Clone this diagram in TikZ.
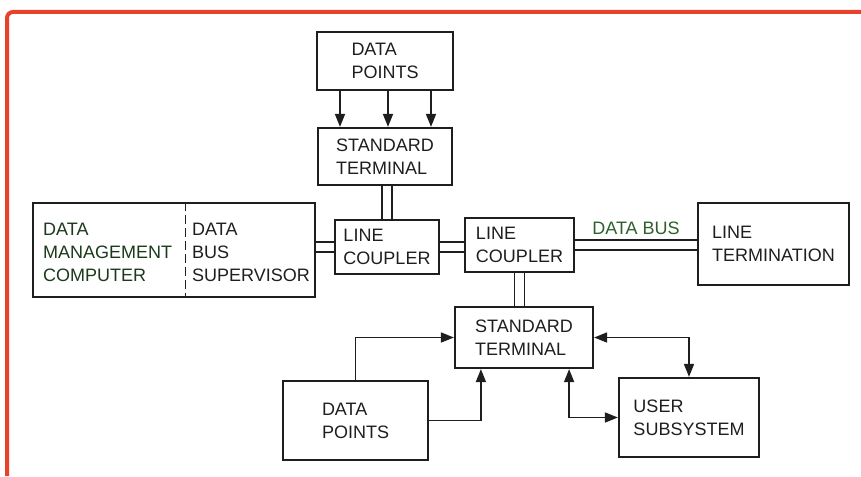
\documentclass[tikz,border=0pt]{standalone}
\usepackage{fontspec}
\setmainfont{Liberation Sans}
\usetikzlibrary{arrows.meta}
\definecolor{frame}{RGB}{232,66,44}
\definecolor{ink}{RGB}{30,30,30}
\definecolor{busgreen}{RGB}{45,95,45}

\begin{document}
\begin{tikzpicture}[x=1pt,y=-1pt,font=\fontsize{18}{23}\selectfont,
 >={Triangle[length=13pt,width=10pt]},
 box/.style={draw=ink,line width=2.2pt,align=left,inner sep=0pt,text=ink},
 bus/.style={draw=ink,double,line width=1.5pt,double distance=8.5pt},
 link/.style={draw=ink,line width=1.6pt,->},
 duplex/.style={draw=ink,line width=1.6pt,<->}]
\useasboundingbox (0,0) rectangle (861,476);
\draw[frame,line width=4pt,rounded corners=6pt] (7,476) -- (7,12) -- (861,12);

% boxes
\node[box,minimum width=136pt,minimum height=58pt] (dp1) at (385,61) {DATA\\POINTS};
\node[box,minimum width=134pt,minimum height=57pt] (st1) at (385,156.5) {STANDARD\\TERMINAL};
\node[box,minimum width=282pt,minimum height=94pt] (dbs) at (174,250) {};
\node[align=left,inner sep=0pt,text=busgreen!60!black,anchor=west] (dmc) at (43,252) {DATA\\MANAGEMENT\\COMPUTER};
\node[align=left,inner sep=0pt,text=ink,anchor=west] (sup) at (192,252) {DATA\\BUS\\SUPERVISOR};
\coordinate (split) at (185,250);
\draw[ink,line width=1pt,dash pattern=on 9pt off 4pt] (split |- dbs.north) -- (split |- dbs.south);
\node[box,minimum width=104pt,minimum height=54pt] (lc1) at (387,247) {LINE\\COUPLER};
\node[box,minimum width=109pt,minimum height=54pt] (lc2) at (519.5,245) {LINE\\COUPLER};
\node[box,minimum width=151pt,minimum height=82pt] (lt) at (773.5,244) {LINE\\TERMINATION};
\node[box,minimum width=138pt,minimum height=61pt] (st2) at (524,337.5) {STANDARD\\TERMINAL};
\node[box,minimum width=145pt,minimum height=79pt] (dp2) at (355.5,420.5) {DATA\\POINTS};
\node[box,minimum width=140pt,minimum height=79pt] (us) at (689,417.5) {USER\\SUBSYSTEM};

% data point inputs
\foreach \dx in {-45,3,46}
  \draw[link] ([xshift=\dx pt]dp1.south) -- ([xshift=\dx pt]dp1.south |- st1.north);

% bus couplings
\draw[bus] (lc1.north |- st1.south) -- (lc1.north);
\draw[bus] (dbs.east |- lc1.west) -- (lc1.west);
\draw[bus] (lc1.east) -- (lc1.east -| lc2.west);
\draw[bus] (lc2.south) -- (lc2.south |- st2.north);
\draw[bus] (lc2.east) -- node[above=10pt,inner sep=0pt,text=busgreen] {DATA BUS} (lc2.east -| lt.west);

% lower terminal links
\draw[link] (dp2.north) |- (st2.west);
\draw[link] (dp2.east) -| ([xshift=27pt]st2.south west);
\draw[duplex] (st2.east) -| (us.north);
\draw[duplex] ([xshift=-25pt]st2.south east) |- (us.west);
\end{tikzpicture}
\end{document}
